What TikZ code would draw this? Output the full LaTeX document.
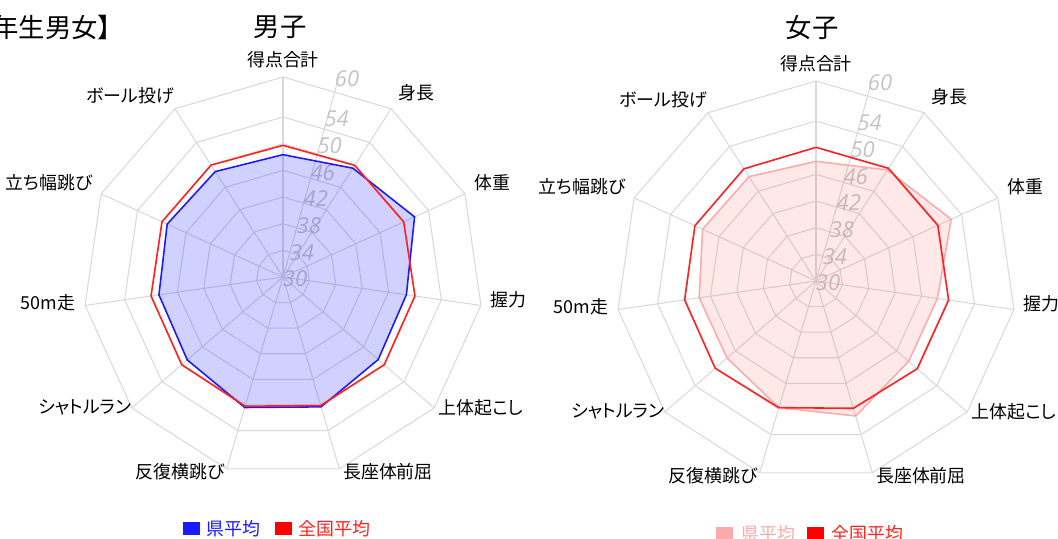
\documentclass[tikz,border=0pt]{standalone}
\usepackage{fontspec}
\setmainfont{Noto Sans CJK JP}[RawFeature=+palt]
\newfontfamily\numfont{Open Sans}
\definecolor{webgray}{HTML}{D9D9D9}
\definecolor{numgray}{HTML}{C4C4C4}
\definecolor{kenblue}{HTML}{1A1AFF}
\definecolor{zenred}{HTML}{FF2020}
\definecolor{kenpink}{HTML}{FFAAAA}
\begin{document}
\begin{tikzpicture}[
    x=0.02cm, y=-0.02cm,
    webline/.style={draw=webgray, line width=0.6pt},
    lbl/.style={inner sep=0pt, font=\fontsize{10.2}{12}\selectfont},
    ttl/.style={inner sep=0pt, font=\fontsize{15}{18}\selectfont},
    num/.style={inner sep=0pt, text=numgray, font=\numfont\itshape\fontsize{12.5}{14}\selectfont},
    kenb/.style={draw=kenblue, line width=0.9pt, fill=kenblue, fill opacity=0.2, draw opacity=1},
    kenp/.style={draw=kenpink, line width=0.9pt, fill=zenred, fill opacity=0.1, draw opacity=1},
    zen/.style={draw=zenred, line width=0.9pt},
    keybox/.style={inner sep=0pt, minimum width=0.34cm, minimum height=0.27cm},
]
\useasboundingbox (0,0) rectangle (1058,538);

% Titel
\node[ttl, anchor=west] (title) at (-8,27) {年生男女】};
\node[ttl] (boys) at (280,27) {男子};
\node[ttl] (girls) at (812,28) {女子};

% Netz links (男子)
\begin{scope}[shift={(283,277)}]
  \foreach \r in {34,38,42,46,50,54,60}
    \draw[webline] (-90:{(\r-30)*20/3}) \foreach \k in {1,...,10} {-- ({\k*360/11-90}:{(\r-30)*20/3})} -- cycle;
  \foreach \k in {0,...,10}
    \draw[webline] (0,0) -- ({\k*360/11-90}:200);
  \draw[webline] (0,0) -- (55,-197);
  \foreach \v in {30,34,38,42,46,50,54,60}
    \node[num] (bn\v) at ({12+0.26*(\v-30)*20/3}, {-(\v-30)*20/3+2}) {\v};

  % Achsenbeschriftung
  \foreach \t/\px/\py [count=\k] in {得点合計/0/-217, 身長/133/-184, 体重/209/-94,
      握力/225/23, 上体起こし/198/131, 長座体前屈/105/195, 反復横跳び/-103/195,
      シャトルラン/-198/130, 50m走/-235/26, 立ち幅跳び/-234/-94, ボール投げ/-153/-181}
    \node[lbl] (bl\k) at (\px,\py) {\t};

  % 県平均 und 全国平均
  \foreach \v [count=\k from 0] in {48.35,49.4,51.7,48.7,48.9,50.3,50.4,49.0,48.8,49.1,48.8}
    \coordinate (bk\k) at ({\k*360/11-90}:{(\v-30)*20/3});
  \foreach \v [count=\k from 0] in {49.75,49.9,49.9,50.0,50.1,50.1,50.2,50.1,50.0,49.95,49.95}
    \coordinate (bz\k) at ({\k*360/11-90}:{(\v-30)*20/3});
  \draw[kenb] (bk0) -- (bk1) -- (bk2) -- (bk3) -- (bk4) -- (bk5) -- (bk6) -- (bk7) -- (bk8) -- (bk9) -- (bk10) -- cycle;
  \draw[zen] (bz0) -- (bz1) -- (bz2) -- (bz3) -- (bz4) -- (bz5) -- (bz6) -- (bz7) -- (bz8) -- (bz9) -- (bz10) -- cycle;
\end{scope}

% Netz rechts (女子)
\begin{scope}[shift={(816,281)}]
  \foreach \r in {34,38,42,46,50,54,60}
    \draw[webline] (-90:{(\r-30)*20/3}) \foreach \k in {1,...,10} {-- ({\k*360/11-90}:{(\r-30)*20/3})} -- cycle;
  \foreach \k in {0,...,10}
    \draw[webline] (0,0) -- ({\k*360/11-90}:200);
  \draw[webline] (0,0) -- (55,-197);
  \foreach \v in {30,34,38,42,46,50,54,60}
    \node[num] (gn\v) at ({12+0.26*(\v-30)*20/3}, {-(\v-30)*20/3+2}) {\v};

  % Achsenbeschriftung
  \foreach \t/\px/\py [count=\k] in {得点合計/0/-217, 身長/133/-184, 体重/209/-94,
      握力/225/23, 上体起こし/198/131, 長座体前屈/105/195, 反復横跳び/-103/195,
      シャトルラン/-198/130, 50m走/-235/26, 立ち幅跳び/-234/-94, ボール投げ/-153/-181}
    \node[lbl] (gl\k) at (\px,\py) {\t};

  % 県平均 und 全国平均
  \foreach \v [count=\k from 0] in {47.95,49.8,52.3,48.4,48.4,51.1,49.8,47.65,47.7,48.7,48.6}
    \coordinate (gk\k) at ({\k*360/11-90}:{(\v-30)*20/3});
  \foreach \v [count=\k from 0] in {50.05,50.1,50.1,50.1,50.1,49.9,49.8,50.0,49.9,49.97,50.0}
    \coordinate (gz\k) at ({\k*360/11-90}:{(\v-30)*20/3});
  \draw[kenp] (gk0) -- (gk1) -- (gk2) -- (gk3) -- (gk4) -- (gk5) -- (gk6) -- (gk7) -- (gk8) -- (gk9) -- (gk10) -- cycle;
  \draw[zen] (gz0) -- (gz1) -- (gz2) -- (gz3) -- (gz4) -- (gz5) -- (gz6) -- (gz7) -- (gz8) -- (gz9) -- (gz10) -- cycle;
\end{scope}

% Legende
\node[keybox, fill=kenblue] (keyKenB) at (191.5,528.5) {};
\node[lbl, anchor=west, text=kenblue] (txtKenB) at (206,528.5) {県平均};
\node[keybox, fill=red] (keyZenB) at (283,528.5) {};
\node[lbl, anchor=west, text=zenred] (txtZenB) at (298,528.5) {全国平均};

\node[keybox, fill=kenpink] (keyKenG) at (724.5,533.5) {};
\node[lbl, anchor=west, text=kenpink] (txtKenG) at (741,533.5) {県平均};
\node[keybox, fill=red] (keyZenG) at (815.5,533.5) {};
\node[lbl, anchor=west, text=zenred] (txtZenG) at (831,533.5) {全国平均};

\end{tikzpicture}
\end{document}
